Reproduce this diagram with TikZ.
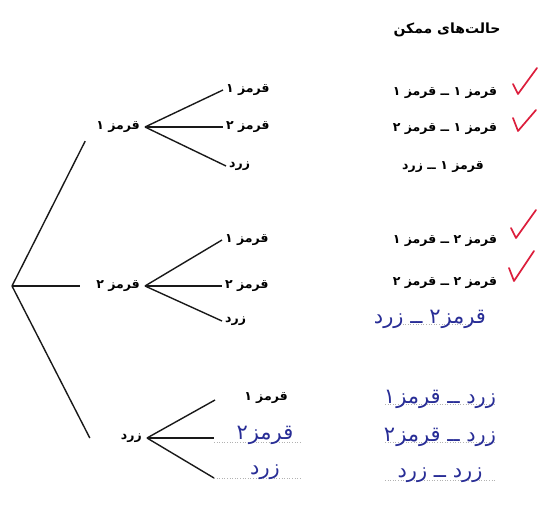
\documentclass[tikz,border=0pt]{standalone}
\usepackage{fontspec}
\newfontfamily\fa[Script=Arabic]{DejaVu Sans}
\TeXXeTstate=1
\newcommand\prs[1]{\beginR #1\endR}
\definecolor{handblue}{RGB}{40,45,150}
\definecolor{tickred}{RGB}{220,30,60}
\begin{document}
\begin{tikzpicture}[x=1pt,y=-1pt,
  tree/.style={draw=black!90, line width=1.4pt},
  lbl/.style={font=\fa\bfseries\fontsize{12.5}{14}\selectfont, inner xsep=3pt, inner ysep=1.5pt},
  mid/.style={lbl, inner xsep=5pt},
  hand/.style={font=\fa\fontsize{21}{23}\selectfont, text=handblue, inner xsep=3pt, inner ysep=1pt},
  tick/.style={draw=tickred, line width=1.7pt, line cap=round, line join=round},
  leader/.style={draw=black!30, dotted, line width=0.6pt}
]
\useasboundingbox (0,0) rectangle (549,518);

% title
\node[lbl, font=\fa\bfseries\fontsize{14}{16}\selectfont] (title) at (447,30) {\prs{حالت‌های ممکن}};

% root
\coordinate (root) at (12,286);

% level 1
\node[mid, anchor=east] (n1) at (145,127) {\prs{قرمز ۱}};
\node[mid, anchor=east] (n2) at (145,286) {\prs{قرمز ۲}};
\node[mid, anchor=east] (n3) at (147,438) {\prs{زرد}};

% leaves group 1
\node[lbl, anchor=west] (l11) at (223,90) {\prs{قرمز ۱}};
\node[lbl, anchor=west] (l12) at (223,127) {\prs{قرمز ۲}};
\node[lbl, anchor=west] (l13) at (226,166) {\prs{زرد}};
% leaves group 2
\node[lbl, anchor=west] (l21) at (222,240) {\prs{قرمز ۱}};
\node[lbl, anchor=west] (l22) at (222,286) {\prs{قرمز ۲}};
\node[lbl, anchor=west] (l23) at (222,321) {\prs{زرد}};
% leaves group 3
\draw[leader] (214,442) -- (300,442);
\draw[leader] (214,478) -- (300,478);
\node[lbl] (l31) at (266,398) {\prs{قرمز ۱}};
\node[hand] (l32) at (265,435) {\prs{قرمز\kern1pt ۲}};
\node[hand] (l33) at (265,472) {\prs{زرد}};

% root connectors
\draw[tree] (root) -- ([xshift=-6pt,yshift=-7pt]n1.south west);
\draw[tree] (root) -- ([xshift=-11pt]n2.west);
\draw[tree] (root) -- ([xshift=-26pt]n3.west);

% branches
\foreach \a/\b in {n1/l11,n1/l12,n1/l13,n2/l21,n2/l22,n2/l23}
  \draw[tree] (\a.east) -- (\b.west);
\draw[tree] (n3.east) -- (215,400);
\draw[tree] (n3.east) -- (214,438);
\draw[tree] (n3.east) -- (214,478);

% outcomes (first pick on the right)
\node[lbl] (r11) at (445,93) {\prs{قرمز ۱ ــ قرمز ۱}};
\node[lbl] (r12) at (445,129) {\prs{قرمز ۱ ــ قرمز ۲}};
\node[lbl] (r13) at (443,167) {\prs{قرمز ۱ ــ زرد}};
\node[lbl] (r21) at (445,241) {\prs{قرمز ۲ ــ قرمز ۱}};
\node[lbl] (r22) at (445,283) {\prs{قرمز ۲ ــ قرمز ۲}};
\draw[leader] (400,324) -- (470,324);
\node[hand] (r23) at (430,319) {\prs{قرمز\kern1pt ۲ ــ زرد}};
\draw[leader] (385,404) -- (495,404);
\draw[leader] (385,442) -- (495,442);
\draw[leader] (385,480) -- (495,480);
\node[hand] (r31) at (440,399) {\prs{زرد ــ قرمز\kern1pt ۱}};
\node[hand] (r32) at (440,437) {\prs{زرد ــ قرمز\kern1pt ۲}};
\node[hand] (r33) at (440,475) {\prs{زرد ــ زرد}};

% check marks
\draw[tick] (513,84) -- (518,94) -- (537,68);
\draw[tick] (513,118) -- (518,131) -- (536,110);
\draw[tick] (511,228) -- (516,238) -- (536,210);
\draw[tick] (509,268) -- (514,281) -- (534,251);
\end{tikzpicture}
\end{document}
